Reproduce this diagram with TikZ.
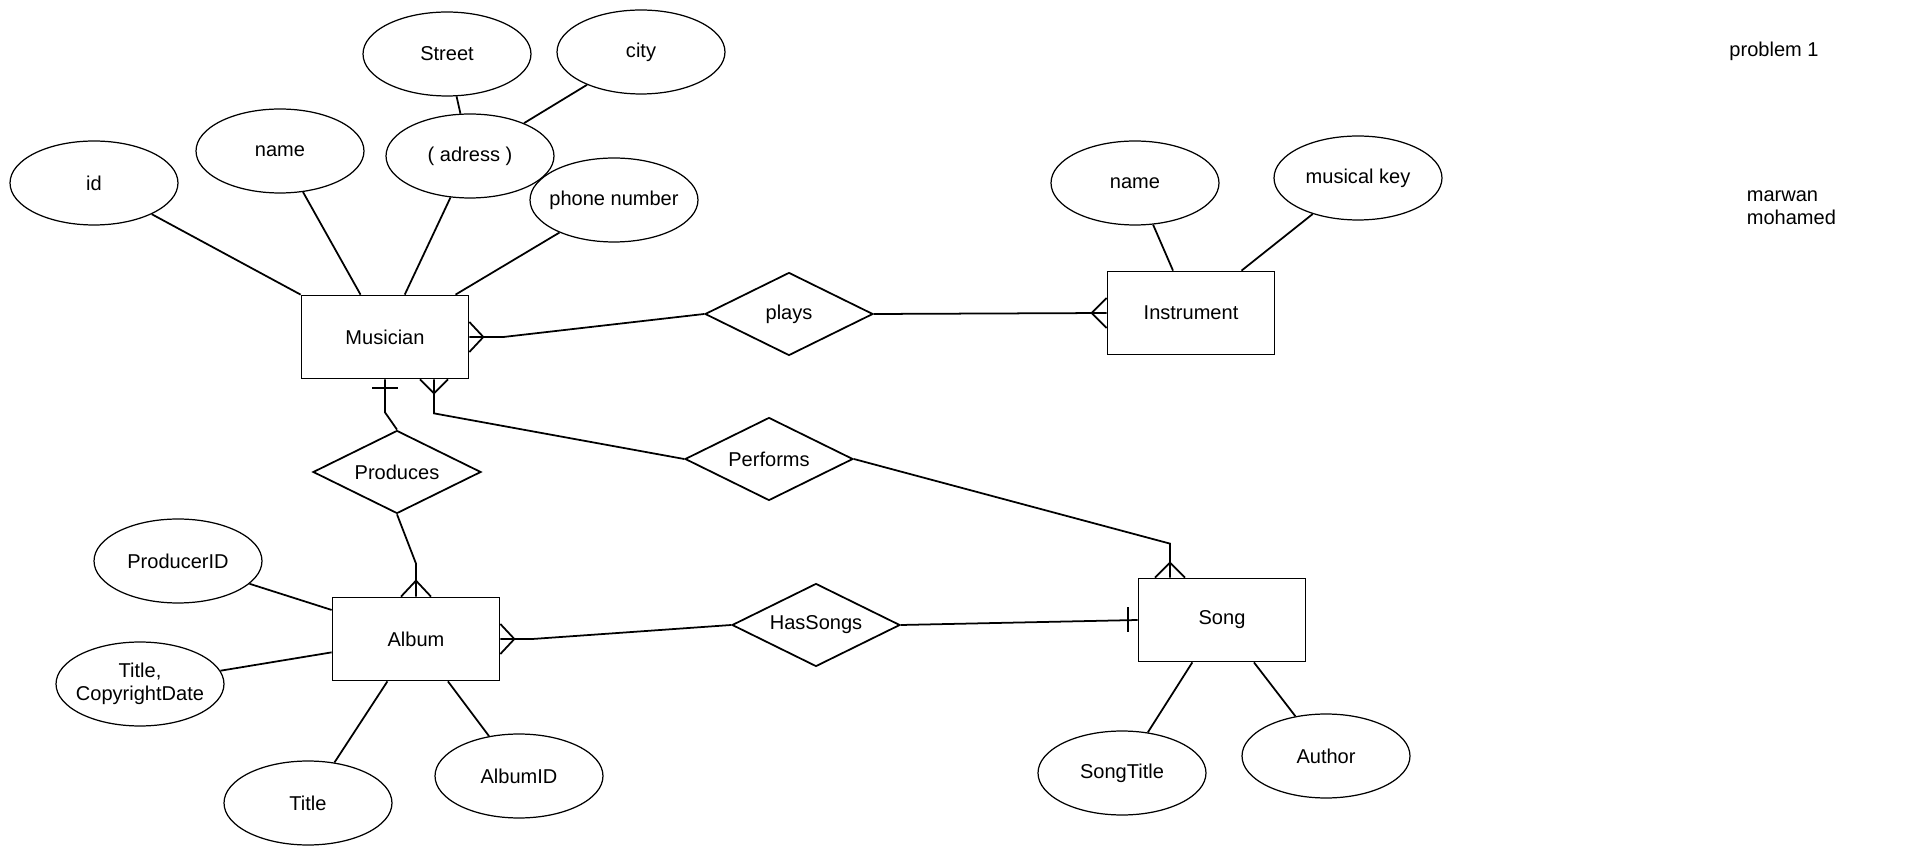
\documentclass[tikz,border=0pt]{standalone}
\usepackage{fontspec}
\setmainfont{Liberation Sans}
\usetikzlibrary{arrows}
\usetikzlibrary{shapes.geometric,calc}

\begin{document}
\begin{tikzpicture}[x=0.02cm,y=-0.02cm,line width=1pt,
	every node/.style={font=\fontsize{11.4}{13.1}\selectfont},
	entity/.style={draw,rectangle,minimum width=3.34cm,minimum height=1.66cm,inner sep=0pt},
	attrib/.style={draw,ellipse,minimum width=3.36cm,minimum height=1.68cm,inner sep=-12pt,line width=0.7pt},
	relation/.style={draw,diamond,minimum width=3.36cm,minimum height=1.66cm,inner sep=-12pt}]
	\useasboundingbox (0,0) rectangle (1920,857);
	%\draw[help lines,step=100] (0,0) grid (1920,857);

	\node[entity] (mus) at (385,337) {Musician};
	\node[entity] (inst) at (1191,313) {Instrument};
	\node[entity] (album) at (416,639) {Album};
	\node[entity] (song) at (1222,620) {Song};

	\node[relation] (plays) at (789,314) {plays};
	\node[relation] (prod) at (397,472) {Produces};
	\node[relation] (perf) at (769,459) {Performs};
	\node[relation] (has) at (816,625) {HasSongs};

	\node[attrib] (id) at (94,183) {id};
	\node[attrib] (mname) at (280,151) {name};
	\node[attrib] (adr) at (470,156) {( adress )};
	\node[attrib] (street) at (447,54) {Street};
	\node[attrib] (city) at (641,52) {city};
	\node[attrib] (phone) at (614,200) {phone number};
	\node[attrib] (iname) at (1135,183) {name};
	\node[attrib] (key) at (1358,178) {musical key};
	\node[attrib] (prodid) at (178,561) {ProducerID};
	\node[attrib,align=center] (tcd) at (140,684) {Title,\\CopyrightDate};
	\node[attrib] (title) at (308,803) {Title};
	\node[attrib] (albid) at (519,776) {AlbumID};
	\node[attrib] (stitle) at (1122,773) {SongTitle};
	\node[attrib] (author) at (1326,756) {Author};

	\node[inner sep=0pt] (prob) at (1774,51) {problem 1};
	\node[inner sep=0pt,anchor=west,align=left] (who) at (1746,208) {marwan\\mohamed};

	% attributes
	\draw (id) -- (mus.north west);
	\draw (mname) -- (mus.120);
	\draw (adr) -- (mus.65);
	\draw (phone) -- (mus.31);
	\draw (street) -- (adr);
	\draw (city) -- (adr);
	\draw (iname) -- (inst.113);
	\draw (key) -- (inst.40);
	\draw (prodid) -- (album.161.5);
	\draw (tcd) -- (album.189);
	\draw (title) -- (album.236.3);
	\draw (albid) -- (album.307.3);
	\draw (stitle) -- (song.235.4);
	\draw (author) -- (song.307.3);

	% relationships
	\draw (mus.east) -- ++(34,0) -- (plays.west);
	\draw ($(mus.east)+(0,-15)$) -- ($(mus.east)+(14,0)$) -- ($(mus.east)+(0,15)$);
	\draw (plays.east) -- (inst.west);
	\draw ($(inst.west)+(0,-15)$) -- ($(inst.west)+(-15,0)$) -- ($(inst.west)+(0,15)$);

	\draw (mus.south) -- ++(0,33) -- (prod.north);
	\draw ($(mus.south)+(-13,9)$) -- ($(mus.south)+(13,9)$);
	\draw (prod.south) -- ($(album.north)+(0,-33)$) -- (album.north);
	\draw ($(album.north)+(-15,0)$) -- ($(album.north)+(0,-16)$) -- ($(album.north)+(15,0)$);

	\draw ($(mus.south)+(49,0)$) -- ++(0,34) -- (perf.west);
	\draw ($(mus.south)+(35,0)$) -- ($(mus.south)+(49,14)$) -- ($(mus.south)+(63,0)$);
	\draw (perf.east) -- ($(song.north)+(-52,-34)$) -- ($(song.north)+(-52,0)$);
	\draw ($(song.north)+(-67,0)$) -- ($(song.north)+(-52,-15)$) -- ($(song.north)+(-37,0)$);

	\draw (album.east) -- ++(32,0) -- (has.west);
	\draw ($(album.east)+(0,-15)$) -- ($(album.east)+(14,0)$) -- ($(album.east)+(0,15)$);
	\draw (has.east) -- (song.west);
	\draw ($(song.west)+(-10,-12.5)$) -- ($(song.west)+(-10,12.5)$);

\end{tikzpicture}
\end{document}
